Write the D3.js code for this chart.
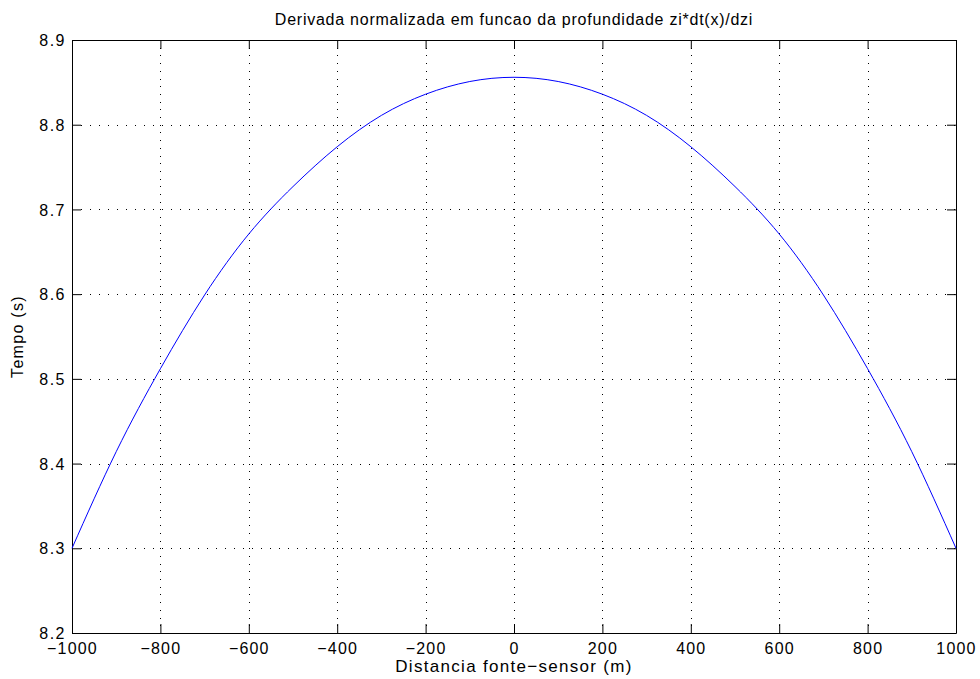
<!DOCTYPE html>
<html>
<head>
<meta charset="utf-8">
<script src="https://cdn.jsdelivr.net/npm/d3@7"></script>
<style>
  body { margin: 0; background: #fff; }
  text { font-family: "Liberation Sans", Arial, Helvetica, sans-serif; fill: #000; }
</style>
</head>
<body>
<svg id="chart"></svg>
<script>
// values
const distancias = [-1000, -900, -800, -700, -600, -500, -400, -300, -200, -100, 0,
                    100, 200, 300, 400, 500, 600, 700, 800, 900, 1000];
const tempos = [8.300, 8.414, 8.512, 8.599, 8.671, 8.727, 8.774, 8.811, 8.836, 8.851, 8.856,
                8.851, 8.836, 8.811, 8.774, 8.727, 8.671, 8.599, 8.512, 8.414, 8.300];
const xTicks = [-1000, -800, -600, -400, -200, 0, 200, 400, 600, 800, 1000];
const yTicks = [8.2, 8.3, 8.4, 8.5, 8.6, 8.7, 8.8, 8.9];

const W = 980, H = 679;
const m = { left: 72, right: 24, top: 40, bottom: 46 };

let svg = d3.select("#chart").attr("width", W).attr("height", H);

const x = d3.scaleLinear().domain([-1000, 1000]).range([m.left, W - m.right]);
const y = d3.scaleLinear().domain([8.2, 8.9]).range([H - m.bottom, m.top]);

const fmtX = d => (d < 0 ? "\u2212" + Math.abs(d) : String(d));
const fmtY = d3.format(".1f");

// grid
let grid = svg.append("g").attr("stroke", "#000").attr("stroke-width", 1).attr("shape-rendering", "crispEdges");
grid.selectAll(".gx").data(xTicks.slice(1, -1)).enter().append("line")
  .attr("x1", d => Math.round(x(d)) + 0.5).attr("x2", d => Math.round(x(d)) + 0.5)
  .attr("y1", y(8.9)).attr("y2", y(8.2))
  .attr("stroke-dasharray", "1,6.7");
grid.selectAll(".gy").data(yTicks.slice(1, -1)).enter().append("line")
  .attr("y1", d => Math.round(y(d)) + 0.5).attr("y2", d => Math.round(y(d)) + 0.5)
  .attr("x1", x(-1000)).attr("x2", x(1000))
  .attr("stroke-dasharray", "1,8");

// axes with inward ticks on all sides
const tk = 9;
svg.append("g").attr("transform", `translate(0,${y(8.2)})`)
  .call(d3.axisBottom(x).tickValues(xTicks).tickFormat(fmtX).tickSizeInner(-tk).tickSizeOuter(0).tickPadding(10))
  .call(g => g.selectAll("text").attr("font-size", 16).attr("letter-spacing", 1.2).attr("dy", "0.71em"));
svg.append("g").attr("transform", `translate(0,${y(8.9)})`)
  .call(d3.axisTop(x).tickValues(xTicks).tickFormat("").tickSizeInner(-tk).tickSizeOuter(0));
svg.append("g").attr("transform", `translate(${x(-1000)},0)`)
  .call(d3.axisLeft(y).tickValues(yTicks).tickFormat(fmtY).tickSizeInner(-tk).tickSizeOuter(0).tickPadding(6))
  .call(g => g.selectAll("text").attr("font-size", 16).attr("letter-spacing", 1.5).attr("dy", "0.35em"));
svg.append("g").attr("transform", `translate(${x(1000)},0)`)
  .call(d3.axisRight(y).tickValues(yTicks).tickFormat("").tickSizeInner(-tk).tickSizeOuter(0));
svg.selectAll(".domain").attr("stroke", "#000");
svg.selectAll(".tick line").attr("stroke", "#000");

// the curve
const pontos = distancias.map((d, i) => ({ x: d, t: tempos[i] }));
const line = d3.line().x(d => x(d.x)).y(d => y(d.t)).curve(d3.curveNatural);
svg.append("path").attr("d", line(pontos))
  .attr("fill", "none").attr("stroke", "#0000ff").attr("stroke-width", 1);

// labels
svg.append("text").attr("x", (x(-1000) + x(1000)) / 2).attr("y", 25)
  .attr("text-anchor", "middle").attr("font-size", 16).attr("letter-spacing", 0.75)
  .text("Derivada normalizada em funcao da profundidade zi*dt(x)/dzi");
svg.append("text").attr("x", (x(-1000) + x(1000)) / 2).attr("y", 672)
  .attr("text-anchor", "middle").attr("font-size", 17).attr("letter-spacing", 1.3)
  .text("Distancia fonte\u2212sensor (m)");
svg.append("text").attr("transform", `translate(23,${(y(8.2) + y(8.9)) / 2}) rotate(-90)`)
  .attr("text-anchor", "middle").attr("font-size", 16).attr("letter-spacing", 1.3)
  .text("Tempo (s)");
</script>
</body>
</html>
